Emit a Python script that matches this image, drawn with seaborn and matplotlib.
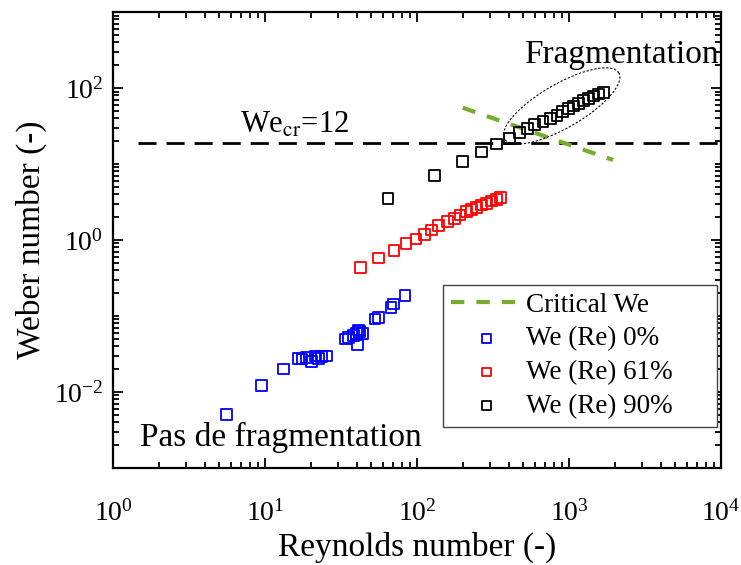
import numpy as np
import matplotlib
matplotlib.use('Agg')
import matplotlib.pyplot as plt
import seaborn as sns
from matplotlib.ticker import FixedLocator, LogLocator, NullFormatter, LogFormatterSciNotation

# ---- data ----
re_0 = [5.6, 9.5, 13.2, 16.6, 17.5, 18.8, 20.3, 21.3, 22.4, 23.5, 25.4,
        33.9, 35.3, 38.1, 40.0, 40.6, 41.0, 42.0, 44.0, 53.0, 56.0, 67.4, 69.7, 83.4]
we_0 = [0.0051, 0.0123, 0.0201, 0.0275, 0.0271, 0.0284, 0.0251, 0.0297, 0.0278, 0.0290, 0.0297,
        0.0498, 0.052, 0.056, 0.059, 0.0415, 0.0655, 0.062, 0.059, 0.0914, 0.095, 0.128, 0.144, 0.187]

re_61 = [42.5, 56, 70.5, 84.5, 98.6, 112, 125, 139, 158, 176, 192, 212, 229, 245, 266, 286, 309, 334, 355]
we_61 = [0.43, 0.58, 0.73, 0.89, 1.03, 1.18, 1.35, 1.54, 1.74, 1.93, 2.13, 2.36, 2.53, 2.69, 2.89,
         3.04, 3.26, 3.43, 3.65]

re_90 = [64.5, 131, 199, 266, 334, 405, 471, 534, 595, 675, 756, 834, 909, 993, 1068, 1155,
         1245, 1344, 1450, 1560, 1685]
we_90 = [3.55, 7.0, 10.7, 14.4, 18.3, 21.8, 25.8, 29.4, 33.3, 36.3, 39.9, 44.0, 48.8, 54.0, 58.0,
         62.9, 67.8, 73.3, 78.6, 83.5, 87.7]

re_crit = [200, 1950]
we_crit = [55, 11.3]

we_cr_line = 19          # horizontal dashed level as drawn
re_line = [1.45, 1e4]

labels = ['Critical We', 'We (Re) 0%', 'We (Re) 61%', 'We (Re) 90%']
colors = ['#77AC30', '#0000FF', '#FF0000', '#000000']

# ---- style ----
sns.set_style('ticks')
plt.rcParams['font.family'] = ['Liberation Serif', 'DejaVu Serif']
plt.rcParams['mathtext.fontset'] = 'stix'
plt.rcParams['text.color'] = 'black'
plt.rcParams['axes.labelcolor'] = 'black'
plt.rcParams['xtick.color'] = 'black'
plt.rcParams['ytick.color'] = 'black'

fig = plt.figure(figsize=(7.41, 5.65), dpi=100)
ax = fig.add_axes([0.1525, 0.1717, 0.8205, 0.807])

sns.lineplot(x=re_crit, y=we_crit, ax=ax, color=colors[0], lw=3,
             dashes=False, label=labels[0], zorder=3)
ax.lines[-1].set_dashes((3.2, 2.9))

for re, we, lab, c in zip([re_0, re_61, re_90], [we_0, we_61, we_90], labels[1:], colors[1:]):
    sns.scatterplot(x=re, y=we, ax=ax, marker='s', s=60, facecolor='none',
                    edgecolor=c, linewidth=1.3, label=lab, zorder=4)

ax.plot(re_line, [we_cr_line, we_cr_line], color='black', lw=2, dashes=(6.5, 3.6), zorder=2)

# dotted ellipse around the fragmentation cluster (axes fraction)
t = np.linspace(0, 2 * np.pi, 200)
th = np.deg2rad(30)
a, b = 66, 22
cx, cy = 0.738, 0.794
ex = cx + (a * np.cos(t) * np.cos(th) - b * np.sin(t) * np.sin(th)) / 608
ey = cy + (a * np.cos(t) * np.sin(th) + b * np.sin(t) * np.cos(th)) / 456
ax.plot(ex, ey, transform=ax.transAxes, color='black', lw=0.8, dashes=(2, 1.6), zorder=5)

ax.set_xscale('log')
ax.set_yscale('log')
ax.set_xlim(1, 1e4)
ax.set_ylim(1e-3, 1e3)

ax.xaxis.set_major_locator(FixedLocator([1, 10, 100, 1000, 10000]))
ax.yaxis.set_major_locator(FixedLocator([1e-2, 1, 1e2]))
for axis in (ax.xaxis, ax.yaxis):
    axis.set_major_formatter(LogFormatterSciNotation())
    axis.set_minor_locator(LogLocator(base=10, subs=np.arange(1, 10), numticks=30))
    axis.set_minor_formatter(NullFormatter())

ax.tick_params(which='both', direction='in', top=True, right=True, width=1.3, labelsize=20,
               colors='black')
ax.tick_params(which='major', length=7)
ax.tick_params(which='minor', length=4)
ax.tick_params(axis='x', which='major', pad=23)
ax.tick_params(axis='y', which='major', pad=7)
for s in ax.spines.values():
    s.set_linewidth(1.6)
    s.set_color('black')

ax.set_xlabel('Reynolds number (-)', fontsize=24, labelpad=4)
ax.set_ylabel('Weber number (-)', fontsize=24, labelpad=5)

ax.text(0.044, 0.066, 'Pas de fragmentation', transform=ax.transAxes, fontsize=24, va='center')
ax.text(0.997, 0.906, 'Fragmentation', transform=ax.transAxes, fontsize=24, va='center', ha='right')
ax.text(0.209, 0.752, r'We$_{\rm cr}$=12', transform=ax.transAxes, fontsize=22, va='center')

leg = ax.legend(loc='lower left', bbox_to_anchor=(0.543, 0.09, 0.45, 0.3), mode='expand',
                borderaxespad=0, fontsize=19.5, frameon=True, fancybox=False, markerscale=0.8,
                handlelength=2.6, handletextpad=0.15, labelspacing=0.32, borderpad=0.3)
leg.get_frame().set_edgecolor('#444444')
leg.get_frame().set_linewidth(1.0)
leg.get_frame().set_alpha(1)

fig.savefig('out.png', dpi=100)
